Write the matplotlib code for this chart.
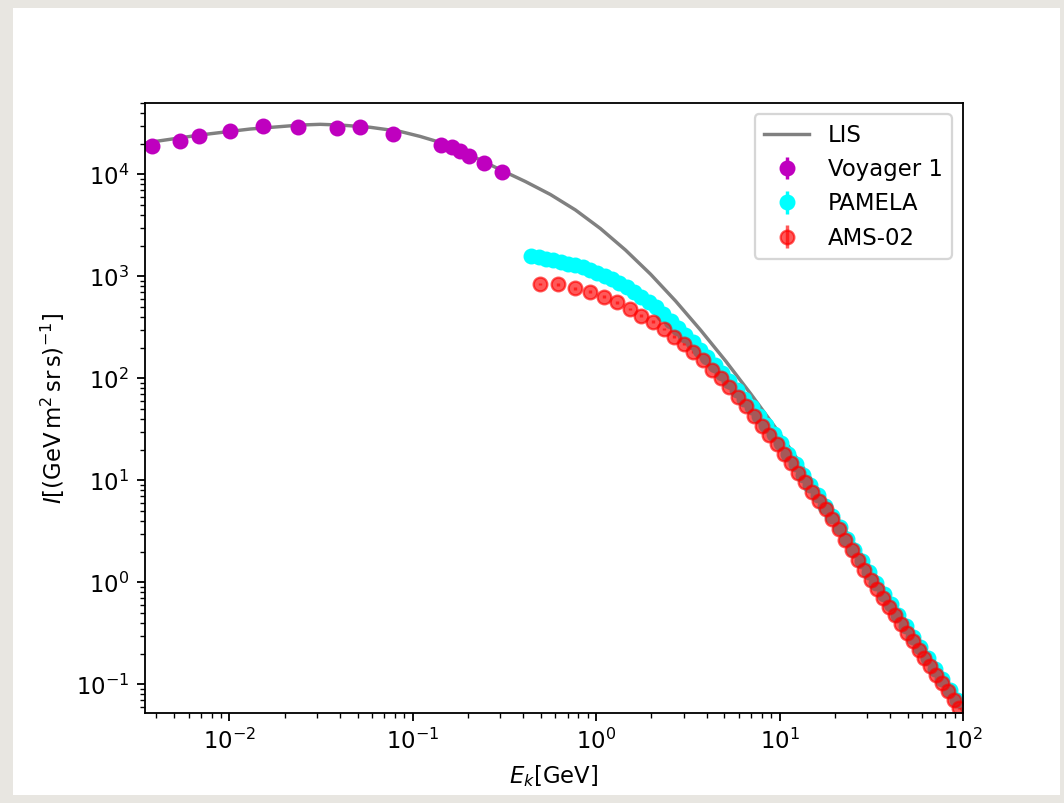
import numpy as np
import matplotlib
matplotlib.use('Agg')
import matplotlib.pyplot as plt
from matplotlib.patches import Rectangle

# local interstellar spectrum
lis_E = [3.47e-3, 6.93e-3, 0.0130, 0.0243, 0.0313, 0.0403, 0.0587, 0.0855, 0.1099,
         0.1417, 0.1816, 0.2304, 0.300, 0.411, 0.563, 0.771, 1.055, 1.445, 1.979,
         2.710, 3.710, 5.080, 6.957, 9.524, 13.04, 24.44, 45.83, 100.0]
lis_I = [2.03e4, 2.43e4, 2.78e4, 3.04e4, 3.09e4, 3.04e4, 2.89e4, 2.63e4, 2.35e4,
         2.05e4, 1.71e4, 1.40e4, 1.11e4, 8.50e3, 6.34e3, 4.47e3, 2.94e3, 1.81e3, 1.05e3,
         573, 297, 148, 70.6, 32.6, 14.5, 2.70, 0.492, 0.0547]

# Voyager 1
voy_E = [3.78e-3, 5.38e-3, 6.84e-3, 0.0101, 0.0153, 0.0237, 0.0387, 0.0517, 0.0782,
         0.143, 0.164, 0.182, 0.203, 0.245, 0.308]
voy_I = [1.89e4, 2.12e4, 2.37e4, 2.67e4, 2.99e4, 2.93e4, 2.82e4, 2.93e4, 2.47e4,
         1.94e4, 1.84e4, 1.69e4, 1.51e4, 1.30e4, 1.05e4]

# PAMELA
pam_E = [0.444, 0.486, 0.533, 0.585, 0.641, 0.703, 0.771, 0.845, 0.927, 1.016,
         1.114, 1.222, 1.340, 1.469, 1.611, 1.766, 1.936, 2.123, 2.328, 2.553,
         2.799, 3.069, 3.365, 3.690, 4.046, 4.436, 4.864, 5.333, 5.848, 6.412,
         7.031, 7.709, 8.453, 9.268, 10.16, 11.14, 12.22, 13.40, 14.69, 16.11,
         17.66, 19.36, 21.23, 23.28, 25.53, 27.99, 30.69, 33.65, 36.90, 40.46,
         44.36, 48.64, 53.33, 58.48, 64.12, 70.31, 77.09, 84.53, 92.68]
pam_I = [1581, 1538, 1495, 1456, 1394, 1335, 1279, 1225, 1161, 1080,
         1005, 934, 868, 782, 700, 627, 561, 496, 425, 365,
         313, 266, 226, 191, 161, 135, 113, 93.2, 76.9, 63.4,
         52.2, 42.6, 34.8, 28.4, 23.1, 18.2, 14.4, 11.4, 9.01, 7.13,
         5.64, 4.44, 3.45, 2.68, 2.08, 1.62, 1.26, 0.986, 0.773, 0.607,
         0.477, 0.375, 0.293, 0.231, 0.182, 0.143, 0.113, 0.0889, 0.0700]

# AMS-02
ams_E = [0.492, 0.621, 0.764, 0.925, 1.105, 1.303, 1.523, 1.765, 2.034, 2.330,
         2.652, 3.005, 3.390, 3.811, 4.272, 4.775, 5.318, 5.907, 6.546, 7.236,
         7.981, 8.787, 9.654, 10.60, 11.60, 12.64, 13.79, 15.04, 16.39, 17.84,
         19.38, 21.03, 22.83, 24.78, 26.83, 29.03, 31.38, 33.88, 36.57, 39.47,
         42.57, 45.87, 49.42, 53.22, 57.27, 61.62, 66.32, 71.37, 76.77, 82.57,
         88.82, 95.57]
ams_I = [841, 836, 762, 706, 631, 556, 478, 411, 359, 304,
         256, 218, 182, 151, 122, 99.8, 81.5, 65.9, 53.5, 42.7,
         34.0, 27.8, 22.7, 18.1, 14.7, 11.9, 9.68, 7.73, 6.32, 5.20,
         4.15, 3.30, 2.61, 2.07, 1.66, 1.32, 1.06, 0.867, 0.710, 0.579,
         0.475, 0.391, 0.322, 0.265, 0.219, 0.182, 0.151, 0.124, 0.103, 0.0855,
         0.0710, 0.0589]
rel_err = 0.03


W, H, DPI = 1064, 803, 164
fig = plt.figure(figsize=(W / DPI, H / DPI), dpi=DPI, facecolor='#e8e6e1')
page = Rectangle((13 / W, 8 / H), (1060 - 13) / W, (795 - 8) / H,
                 transform=fig.transFigure, facecolor='white',
                 edgecolor='none', zorder=-10)
fig.add_artist(page)

ax = fig.add_axes([145 / W, (H - 713) / H, (963 - 145) / W, (713 - 103) / H])
ax.set_zorder(1)

ax.plot(lis_E, lis_I, color='grey', linewidth=1.5, label='LIS')
ax.errorbar(voy_E, voy_I, yerr=rel_err * np.array(voy_I), fmt='o', color='m',
            label='Voyager 1')
ax.errorbar(pam_E, pam_I, yerr=rel_err * np.array(pam_I), fmt='o', color='cyan',
            label='PAMELA')
ax.errorbar(ams_E, ams_I, yerr=rel_err * np.array(ams_I), fmt='o', color='r',
            alpha=0.65, label='AMS-02')

ax.set_xscale('log')
ax.set_yscale('log')
ax.set_xlim(3.47e-3, 100)
ax.set_ylim(0.0524, 5.0e4)
ax.set_xlabel(r'$E_k[\mathrm{GeV}]$')
ax.set_ylabel(r'$I[(\mathrm{GeV\,m^2\,sr\,s})^{-1}]$')
ax.legend(loc='upper right')

fig.savefig('out.png', dpi=DPI, facecolor=fig.get_facecolor())
